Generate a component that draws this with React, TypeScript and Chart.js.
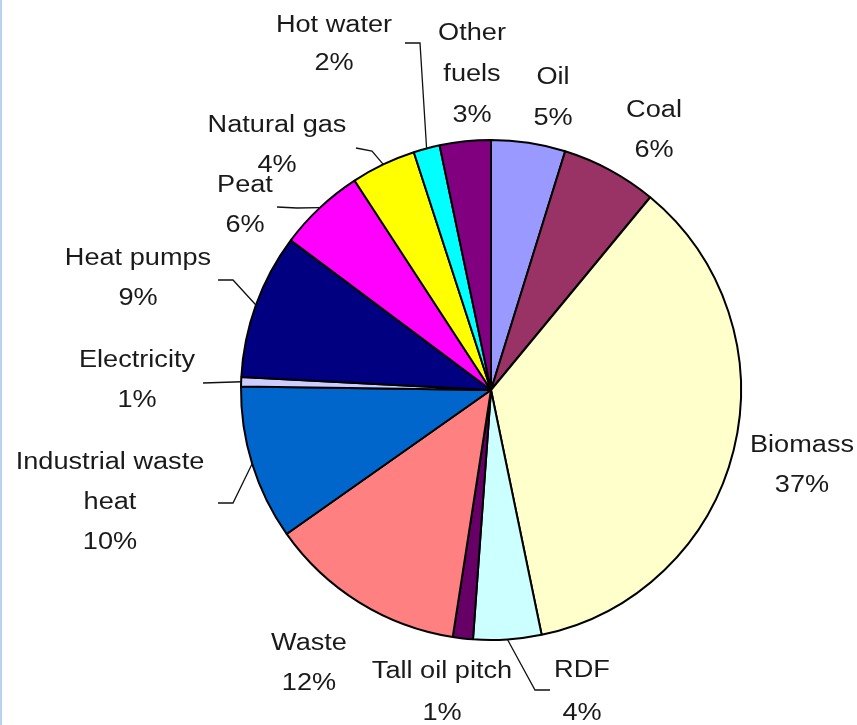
import React, { useEffect, useRef } from "react";
import { Chart, registerables } from "chart.js";

Chart.register(...registerables);

// ---- data ----
const categories = [
  "Oil",
  "Coal",
  "Biomass",
  "RDF",
  "Tall oil pitch",
  "Waste",
  "Industrial waste heat",
  "Electricity",
  "Heat pumps",
  "Peat",
  "Natural gas",
  "Hot water",
  "Other fuels",
];
const shares = [4.8, 6.2, 35.8, 4.4, 1.3, 12.8, 10.0, 0.6, 9.4, 5.6, 4.2, 1.7, 3.3];
const percentLabels = ["5%", "6%", "37%", "4%", "1%", "12%", "10%", "1%", "9%", "6%", "4%", "2%", "3%"];
const colors = [
  "#9999ff",
  "#993366",
  "#ffffcc",
  "#ccffff",
  "#660066",
  "#ff8080",
  "#0066cc",
  "#ccccff",
  "#000080",
  "#ff00ff",
  "#ffff00",
  "#00ffff",
  "#800080",
];
const nameLines = [
  ["Oil"],
  ["Coal"],
  ["Biomass"],
  ["RDF"],
  ["Tall oil pitch"],
  ["Waste"],
  ["Industrial waste", "heat"],
  ["Electricity"],
  ["Heat pumps"],
  ["Peat"],
  ["Natural gas"],
  ["Hot water"],
  ["Other", "fuels"],
];

// ---- label layout (text anchor: center x, first baseline y) ----
const labelAnchors = [
  { x: 553, y: 84, gap: 41 },
  { x: 654, y: 117, gap: 40 },
  { x: 802, y: 452, gap: 40 },
  { x: 582, y: 677, gap: 43 },
  { x: 442, y: 678, gap: 42 },
  { x: 309, y: 650, gap: 40 },
  { x: 110, y: 469, gap: 40 },
  { x: 137, y: 367, gap: 40 },
  { x: 138, y: 265, gap: 40 },
  { x: 245, y: 192, gap: 40 },
  { x: 277, y: 132, gap: 40 },
  { x: 334, y: 32, gap: 38 },
  { x: 472, y: 40, gap: 41 },
];
// leader lines: points from label side toward the slice (rim point is computed)
const leaders: (number[][] | null)[] = [
  null,
  null,
  null,
  [[550, 690], [535, 690]],
  null,
  null,
  [[218, 503], [233, 503]],
  [[203, 383]],
  [[218, 280], [233, 280]],
  [[277, 207], [297, 208]],
  [[356, 148], [372, 151]],
  [[405, 43], [420, 43]],
  null,
];

const labelPlugin = {
  id: "sliceLabels",
  afterDraw(chart: any) {
    const ctx = chart.ctx as CanvasRenderingContext2D;
    const meta = chart.getDatasetMeta(0);
    ctx.save();
    // leader lines
    ctx.strokeStyle = "#111";
    ctx.lineWidth = 1.3;
    meta.data.forEach((arc: any, i: number) => {
      const pts = leaders[i];
      if (!pts) return;
      const p = arc.getProps(["x", "y", "startAngle", "endAngle", "outerRadius"], true);
      const mid = (p.startAngle + p.endAngle) / 2;
      const rx = p.x + Math.cos(mid) * p.outerRadius;
      const ry = p.y + Math.sin(mid) * p.outerRadius;
      ctx.beginPath();
      ctx.moveTo(pts[0][0], pts[0][1]);
      for (let k = 1; k < pts.length; k++) ctx.lineTo(pts[k][0], pts[k][1]);
      ctx.lineTo(rx, ry);
      ctx.stroke();
    });
    // texts
    ctx.fillStyle = "#1a1a1a";
    ctx.font = "23px 'Liberation Sans', Arial, sans-serif";
    ctx.textAlign = "center";
    ctx.textBaseline = "alphabetic";
    categories.forEach((_, i) => {
      const a = labelAnchors[i];
      const lines = [...nameLines[i], percentLabels[i]];
      lines.forEach((t, k) => {
        ctx.save();
        ctx.translate(a.x, a.y + k * a.gap);
        ctx.scale(1.18, 1);
        ctx.fillText(t, 0, 0);
        ctx.restore();
      });
    });
    ctx.restore();
  },
};

export default function App() {
  const ref = useRef<HTMLCanvasElement | null>(null);
  useEffect(() => {
    if (!ref.current) return;
    const chart = new Chart(ref.current, {
      type: "pie",
      data: {
        labels: categories,
        datasets: [
          {
            data: shares,
            backgroundColor: colors,
            borderColor: "#000000",
            borderWidth: 2,
          },
        ],
      },
      options: {
        responsive: false,
        animation: false,
        devicePixelRatio: 1,
        radius: 250,
        layout: { padding: { left: 125, right: 0, top: 55, bottom: 0 } },
        plugins: {
          legend: { display: false },
          tooltip: { enabled: false },
        },
      },
      plugins: [labelPlugin],
    });
    return () => chart.destroy();
  }, []);
  return (
    <div
      style={{
        position: "fixed",
        left: 0,
        top: 0,
        width: 857,
        height: 725,
        background: "#ffffff",
        overflow: "hidden",
      }}
    >
      <canvas ref={ref} width={857} height={725} style={{ display: "block" }} />
      <div
        style={{
          position: "absolute",
          left: 0,
          top: 0,
          width: 2,
          height: 725,
          background: "#b9d2f2",
        }}
      />
    </div>
  );
}
